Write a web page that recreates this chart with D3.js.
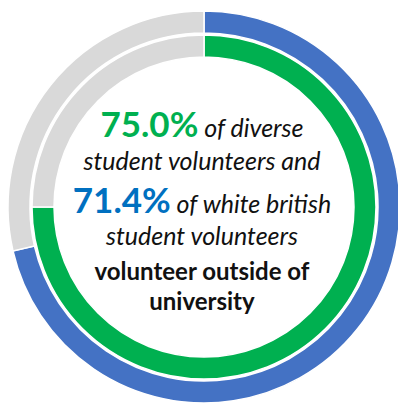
<!DOCTYPE html>
<html>
<head>
<meta charset="utf-8">
<script src="https://cdn.jsdelivr.net/npm/d3@7"></script>
<style>
  html, body { margin: 0; padding: 0; background: #fff; }
  svg { display: block; }
  text { font-family: Lato, "Open Sans", sans-serif; }
</style>
</head>
<body>
<svg id="chart" width="398" height="403"></svg>
<script>
// rings, outer first
const groups = ['White British student volunteers', 'Diverse student volunteers'];
const outsideShare = [71.4, 75.0];
const ringColors = ['#4472C4', '#00B050'];
const restColor = '#D9D9D9';

(function () {
  const svg = d3.select('#chart');
  const cx = 204, cy = 207;
  const rings = [[174, 196], [150, 172]];

  const pie = d3.pie().sort(null).value(d => d.v);
  const g = svg.append('g').attr('transform', `translate(${cx},${cy})`);

  groups.forEach((name, i) => {
    const slices = pie([
      { v: outsideShare[i], c: ringColors[i] },
      { v: 100 - outsideShare[i], c: restColor },
    ]);
    const arc = d3.arc().innerRadius(rings[i][0]).outerRadius(rings[i][1]);
    g.append('g').attr('class', 'ring')
      .selectAll('path')
      .data(slices)
      .join('path')
      .attr('d', arc)
      .attr('fill', d => d.data.c)
      .attr('stroke', '#fff')
      .attr('stroke-width', 1.5);
  });

  // centre label
  const fmt = d3.format('.1f');
  const lines = [
    { y: 137, parts: [
      { t: fmt(outsideShare[1]) + '%', size: 35, weight: 700, color: '#00B050' },
      { t: ' of diverse', size: 25, italic: true } ] },
    { y: 170, parts: [ { t: 'student volunteers and', size: 25, italic: true } ] },
    { y: 213, parts: [
      { t: fmt(outsideShare[0]) + '%', size: 35, weight: 700, color: '#0070C0' },
      { t: ' of white british', size: 25, italic: true } ] },
    { y: 245, parts: [ { t: 'student volunteers', size: 25, italic: true } ] },
    { y: 280, parts: [ { t: 'volunteer outside of', size: 24, weight: 700 } ] },
    { y: 310, parts: [ { t: 'university', size: 24, weight: 700 } ] },
  ];

  const label = svg.append('g').attr('class', 'label');
  lines.forEach(line => {
    const text = label.append('text')
      .attr('x', 202)
      .attr('y', line.y)
      .attr('text-anchor', 'middle')
      .attr('fill', '#111');
    line.parts.forEach(p => {
      text.append('tspan')
        .text(p.t)
        .attr('font-size', p.size)
        .attr('font-weight', p.weight || 400)
        .attr('font-style', p.italic ? 'italic' : 'normal')
        .attr('fill', p.color || '#111')
        .style('white-space', 'pre');
    });
  });
})();
</script>
</body>
</html>
